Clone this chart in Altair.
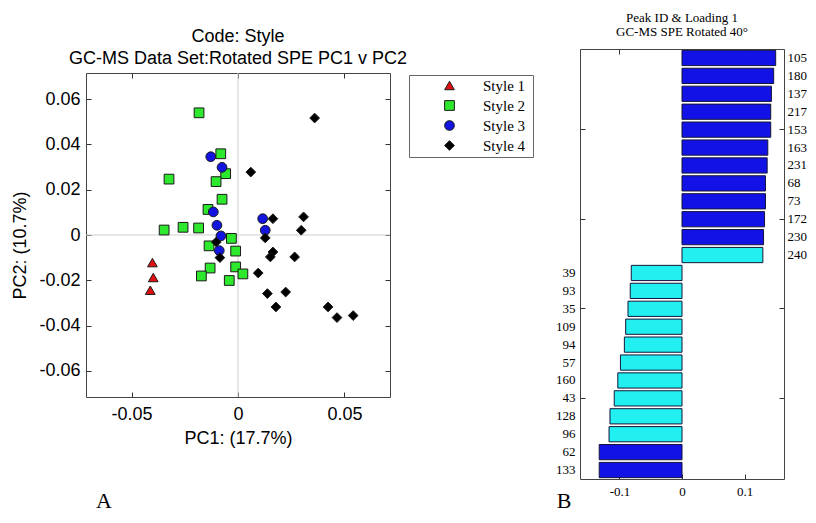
import altair as alt
import pandas as pd

SANS = "Liberation Sans"
SERIF = "Liberation Serif"
FRAME = "#444444"

# ---------------- Panel A: scores ----------------
styles = ["Style 1", "Style 2", "Style 3", "Style 4"]
style_colors = ["#E01010", "#2EE82E", "#1414E0", "#000000"]
style_shapes = ["triangle-up", "square", "circle", "diamond"]

s1_pc1 = [-0.0402, -0.0398, -0.0412]
s1_pc2 = [-0.0122, -0.0188, -0.0244]
s2_pc1 = [-0.0183, -0.0324, -0.0081, -0.0058, -0.0103, -0.0075, -0.0141, -0.0347, -0.0258,
          -0.0185, -0.0031, -0.0136, -0.0011, -0.0131, -0.0172, -0.0011, 0.0023, -0.0041]
s2_pc2 = [0.0540, 0.0247, 0.0359, 0.0271, 0.0236, 0.0158, 0.0113, 0.0022, 0.0034,
          0.0031, -0.0015, -0.0048, -0.0071, -0.0146, -0.0181, -0.0141, -0.0172, -0.0201]
s3_pc1 = [-0.0128, -0.0075, -0.0116, -0.0099, 0.0116, 0.0128, -0.0080, -0.0088]
s3_pc2 = [0.0346, 0.0299, 0.0102, 0.0043, 0.0072, 0.0021, -0.0004, -0.0069]
s4_pc1 = [0.0360, 0.0060, 0.0164, 0.0308, 0.0297, 0.0128, -0.0102, -0.0085, 0.0164,
          0.0152, 0.0266, 0.0095, 0.0138, 0.0224, 0.0178, 0.0423, 0.0465, 0.0541]
s4_pc2 = [0.0517, 0.0278, 0.0072, 0.0080, 0.0021, -0.0013, -0.0031, -0.0100, -0.0075,
          -0.0097, -0.0097, -0.0168, -0.0259, -0.0252, -0.0318, -0.0318, -0.0365, -0.0356]

pc1_domain = [-0.0714, 0.0714]
pc2_domain = [-0.0716, 0.0716]
pc1_ticks = [-0.05, 0, 0.05]
pc2_ticks = [-0.06, -0.04, -0.02, 0, 0.02, 0.04, 0.06]

# ---------------- Panel B: loadings ----------------
peaks = ["105", "180", "137", "217", "153", "163", "231", "68", "73", "172", "230", "240",
         "39", "93", "35", "109", "94", "57", "160", "43", "128", "96", "62", "133"]
loadings = [0.1497, 0.1465, 0.1429, 0.1418, 0.1418, 0.1371, 0.1361, 0.1334, 0.1334, 0.1319,
            0.1303, 0.1292, -0.0811, -0.0827, -0.0863, -0.0900, -0.0921, -0.0984, -0.1026,
            -0.1083, -0.1151, -0.1166, -0.1323, -0.1323]
groups = ["strong"] * 11 + ["weak"] * 11 + ["strong"] * 2
group_names = ["strong", "weak"]
group_colors = ["#1212E6", "#22F0F0"]
loading_domain = [-0.163, 0.163]
loading_ticks = [-0.1, 0, 0.1]
peak_tick_positions = ["153", "172", "35", "43"]

# ---------------- frames ----------------
rows = []
for name, xs, ys in [(styles[0], s1_pc1, s1_pc2), (styles[1], s2_pc1, s2_pc2),
                     (styles[2], s3_pc1, s3_pc2), (styles[3], s4_pc1, s4_pc2)]:
    for a, b in zip(xs, ys):
        rows.append({"PC1": a, "PC2": b, "Style": name})
df = pd.DataFrame(rows)
zero_df = pd.DataFrame({"z": [0.0], "lo": [pc2_domain[0]], "hi": [pc2_domain[1]]})
bdf = pd.DataFrame({"Peak": peaks, "Loading": loadings, "Group": groups})

NEG = alt.ExprRef(expr="-5")
num_label = "'' + datum.value"

# scatter view is 24px taller than its frame so that it sits lower than panel B
A_W, A_H, A_TOP = 304, 348, 24
sx = alt.Scale(domain=pc1_domain, nice=False, zero=False)
sy = alt.Scale(domain=pc2_domain, nice=False, zero=False, range=[A_H, A_TOP])

sans_common = dict(labelFont=SANS, labelFontSize=18, labelColor="black", titleFont=SANS,
                   titleFontSize=18, titleColor="black", titleFontWeight="normal",
                   tickSize=NEG, tickColor="#333", tickWidth=1, grid=False,
                   domain=True, domainColor=FRAME, domainWidth=1)

vrule = alt.Chart(zero_df).mark_rule(color="#cfcfcf", strokeWidth=1).encode(
    x=alt.X("z:Q", scale=sx,
            axis=alt.Axis(orient="top", values=pc1_ticks, labels=False, title=None,
                          offset=-A_TOP, **sans_common)),
    y=alt.Y("lo:Q", scale=sy, axis=None),
    y2="hi:Q",
)
hrule = alt.Chart(zero_df).mark_rule(color="#cfcfcf", strokeWidth=1).encode(
    y=alt.Y("z:Q", scale=sy,
            axis=alt.Axis(orient="right", values=pc2_ticks, labels=False, title=None, **sans_common))
)
leg = alt.Legend(title="M", titleOrient="right", titleOpacity=0, titleFontSize=4, titlePadding=1,
                 orient="none", legendX=323, legendY=26)
pts = alt.Chart(df).mark_point(filled=True, opacity=1, size=95, stroke="#1a1a1a", strokeWidth=1).encode(
    x=alt.X("PC1:Q", scale=sx,
            axis=alt.Axis(orient="bottom", values=pc1_ticks, labelExpr=num_label,
                          title="PC1: (17.7%)", titlePadding=6, labelPadding=13, **sans_common)),
    y=alt.Y("PC2:Q", scale=sy,
            axis=alt.Axis(orient="left", values=pc2_ticks, labelExpr=num_label,
                          title="PC2: (10.7%)", titlePadding=9, labelPadding=11, titleY=196,
                          **sans_common)),
    color=alt.Color("Style:N", scale=alt.Scale(domain=styles, range=style_colors), legend=leg),
    shape=alt.Shape("Style:N", scale=alt.Scale(domain=styles, range=style_shapes), legend=leg),
)
a_lab = alt.Chart(pd.DataFrame({"lab": ["A"]})).mark_text(
    font=SERIF, fontSize=22, color="black", align="center", baseline="alphabetic"
).encode(text="lab:N", x=alt.value(18), y=alt.value(459))

panel_a = alt.layer(vrule, hrule, pts, a_lab).resolve_axis(
    x="independent", y="independent"
).properties(
    width=A_W, height=A_H,
    title=alt.TitleParams(
        text=["Code: Style", "GC-MS Data Set:Rotated SPE PC1 v PC2"],
        font=SANS, fontSize=18, fontWeight="normal", lineHeight=22, color="black",
        anchor="middle", offset=0, dy=19,
    ),
)

# ---------------- panel B ----------------
bx = alt.Scale(domain=loading_domain, nice=False, zero=False)
by = alt.Scale(paddingInner=0.15, paddingOuter=0.075)
neg_list = "[" + ",".join("'%s'" % p for p, v in zip(peaks, loadings) if v < 0) + "]"
pos_list = "[" + ",".join("'%s'" % p for p, v in zip(peaks, loadings) if v >= 0) + "]"
tick_list = "[" + ",".join("'%s'" % p for p in peak_tick_positions) + "]"
tick_cond = {"condition": {"test": "indexof(%s, datum.value) >= 0" % tick_list, "value": 1}, "value": 0}

serif_axis = dict(labelFont=SERIF, labelFontSize=13, labelColor="black", title=None,
                  tickSize=NEG, tickColor="#333", tickWidth=1, grid=False,
                  domain=True, domainColor=FRAME, domainWidth=1)

bars = alt.Chart(bdf).mark_bar(stroke="#15153a", strokeWidth=1).encode(
    x=alt.X("Loading:Q", scale=bx,
            axis=alt.Axis(orient="bottom", values=loading_ticks, labelExpr=num_label,
                          labelPadding=11, **serif_axis)),
    y=alt.Y("Peak:N", sort=peaks, scale=by,
            axis=alt.Axis(orient="left", labelExpr="indexof(%s, datum.value) >= 0 ? datum.label : ''" % neg_list,
                          tickOpacity=tick_cond, labelPadding=10, labelAlign="right", **serif_axis)),
    color=alt.Color("Group:N", scale=alt.Scale(domain=group_names, range=group_colors), legend=None),
)
bars_r = alt.Chart(bdf).mark_bar(opacity=0).encode(
    x=alt.X("Loading:Q", scale=bx,
            axis=alt.Axis(orient="top", values=loading_ticks, labels=False, **serif_axis)),
    y=alt.Y("Peak:N", sort=peaks, scale=by,
            axis=alt.Axis(orient="right", labelExpr="indexof(%s, datum.value) >= 0 ? datum.label : ''" % pos_list,
                          tickOpacity=tick_cond, labelPadding=8, labelAlign="left", **serif_axis)),
)
b_lab = alt.Chart(pd.DataFrame({"lab": ["B"]})).mark_text(
    font=SERIF, fontSize=22, color="black", align="center", baseline="alphabetic"
).encode(text="lab:N", x=alt.value(-16), y=alt.value(459))

panel_b = alt.layer(bars, bars_r, b_lab).resolve_axis(
    x="independent", y="independent"
).properties(
    width=204, height=430,
    title=alt.TitleParams(
        text=["Peak ID & Loading 1", "GC-MS SPE Rotated 40\u00b0"], font=SERIF, fontSize=13,
        fontWeight="normal", lineHeight=14, color="black", anchor="middle", offset=10,
    ),
)

chart = alt.hconcat(panel_a, panel_b, spacing=21).resolve_scale(
    color="independent", shape="independent", x="independent", y="independent"
).resolve_legend(
    color="independent", shape="independent"
).properties(
    padding={"left": 3, "top": 3, "right": 0, "bottom": 0},
    background="white",
).configure_view(
    stroke=None
).configure_legend(
    padding=3, strokeColor="#666", fillColor="white",
    cornerRadius=0, labelFont=SERIF, labelFontSize=15, labelColor="black",
    symbolOffset=30, labelOffset=26, rowPadding=4,
    symbolStrokeColor="#1a1a1a", symbolStrokeWidth=1, symbolSize=95,
)

chart.save("out.html", embed_options={"renderer": "svg", "actions": False})
